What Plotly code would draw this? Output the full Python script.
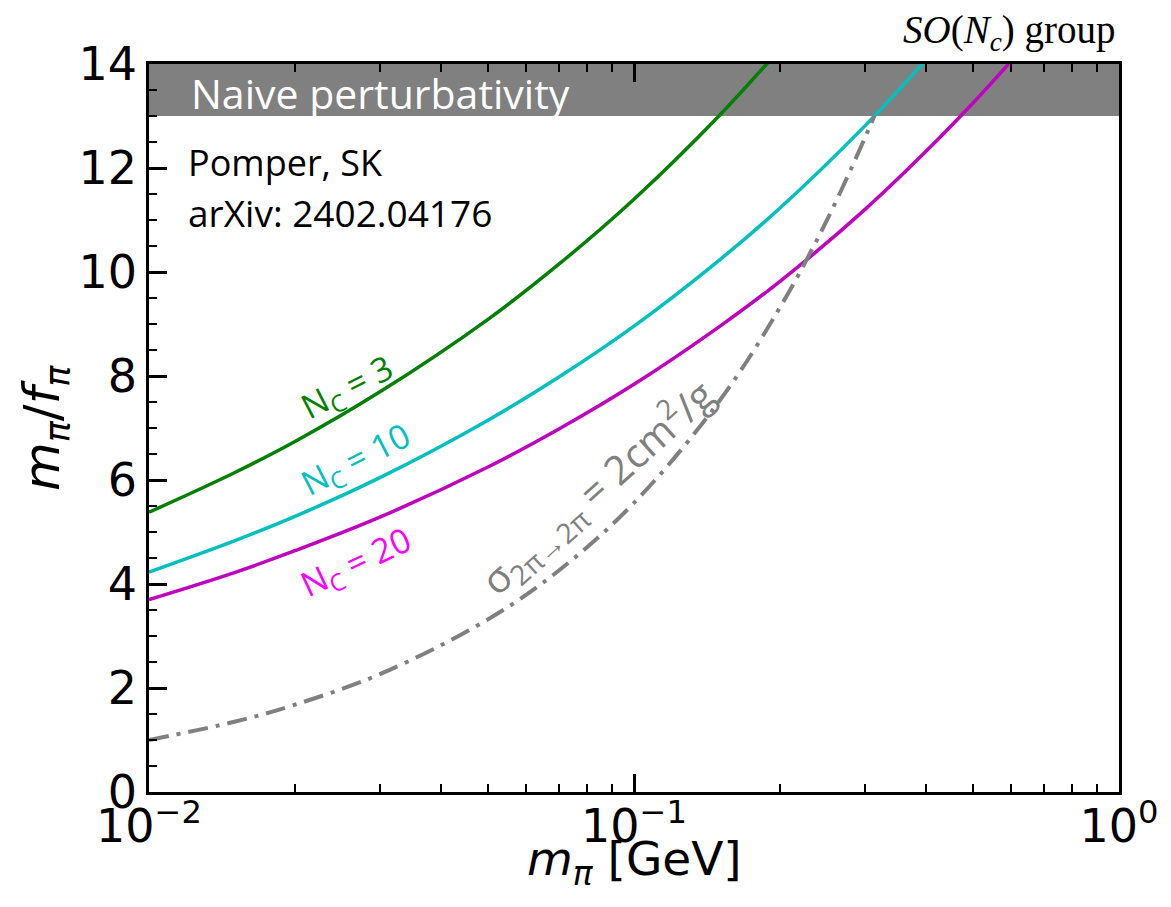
import plotly.graph_objects as go

# ---- data ----
x_nc3 = [0.01, 0.015, 0.02, 0.03, 0.05, 0.07, 0.1, 0.15, 0.2]
y_nc3 = [5.38, 6.14, 6.74, 7.70, 9.09, 10.15, 11.40, 13.01, 14.29]

x_nc10 = [0.01, 0.015, 0.02, 0.03, 0.05, 0.07, 0.1, 0.15, 0.2, 0.3, 0.4]
y_nc10 = [4.23, 4.83, 5.30, 6.05, 7.15, 7.98, 8.96, 10.23, 11.23, 12.82, 14.08]

x_nc20 = [0.01, 0.015, 0.02, 0.03, 0.05, 0.07, 0.1, 0.15, 0.2, 0.3, 0.4, 0.5, 0.6]
y_nc20 = [3.70, 4.22, 4.64, 5.29, 6.25, 6.98, 7.84, 8.95, 9.82, 11.21, 12.32, 13.25, 14.06]

x_sigma = [0.01, 0.015, 0.02, 0.03, 0.05, 0.07, 0.1, 0.15, 0.2, 0.25, 0.3, 0.313]
y_sigma = [1.00, 1.35, 1.68, 2.27, 3.32, 4.26, 5.56, 7.52, 9.32, 11.0, 12.60, 13.0]

band_low, band_high = 13, 14

x_tickvals = [0.01, 0.1, 1]
x_ticktext = ["10<sup>\u22122</sup>", "10<sup>\u22121</sup>", "10<sup>0</sup>"]
x_minor = [k * d for d in (0.01, 0.1) for k in range(2, 10)]

GREEN = "#008000"
CYAN = "#00BFBF"
MAGENTA = "#BF00BF"
GRAY = "#808080"
SANS = "Open Sans"
TICKFONT = dict(family="DejaVu Sans", size=46, color="black")

fig = go.Figure()
for xs, ys, col in [(x_nc3, y_nc3, GREEN), (x_nc10, y_nc10, CYAN), (x_nc20, y_nc20, MAGENTA)]:
    fig.add_trace(go.Scatter(x=xs, y=ys, mode="lines", line=dict(color=col, width=3.5, shape="spline"),
                             showlegend=False, hoverinfo="skip"))
fig.add_trace(go.Scatter(x=x_sigma, y=y_sigma, mode="lines",
                         line=dict(color=GRAY, width=4, dash="20px,8px,4px,8px", shape="spline"),
                         showlegend=False, hoverinfo="skip"))
# invisible trace so that the top (mirror) axis is drawn with its ticks
fig.add_trace(go.Scatter(x=[x_nc3[0]], y=[y_nc3[0]], xaxis="x2", mode="markers",
                         marker=dict(opacity=0), showlegend=False, hoverinfo="skip"))

fig.add_shape(type="rect", xref="paper", x0=0, x1=1, yref="y", y0=band_low, y1=band_high,
              fillcolor=GRAY, line=dict(width=0), layer="below")

ann = []
ann.append(dict(text="Naive perturbativity", x=-1.918, y=13.45, xref="x", yref="y", xanchor="left",
                yanchor="middle", showarrow=False, font=dict(family=SANS, size=41, color="white")))
ann.append(dict(text="Pomper, SK", x=-1.924, y=12.11, xref="x", yref="y", xanchor="left",
                yanchor="middle", showarrow=False, font=dict(family=SANS, size=36, color="black")))
ann.append(dict(text="arXiv: 2402.04176", x=-1.924, y=11.15, xref="x", yref="y", xanchor="left",
                yanchor="middle", showarrow=False, font=dict(family=SANS, size=37, color="black")))
ann.append(dict(text="N<sub>C</sub> = 3", x=-1.590, y=7.77, xref="x", yref="y", textangle=-27,
                showarrow=False, font=dict(family=SANS, size=34, color=GREEN)))
ann.append(dict(text="N<sub>C</sub> = 10", x=-1.5715, y=6.38, xref="x", yref="y", textangle=-27,
                showarrow=False, font=dict(family=SANS, size=34, color=CYAN)))
ann.append(dict(text="N<sub>C</sub> = 20", x=-1.5715, y=4.40, xref="x", yref="y", textangle=-25,
                showarrow=False, font=dict(family=SANS, size=34, color="#FF00FF")))
ann.append(dict(text="\u03c3<sub>2\u03c0\u21922\u03c0</sub> = 2cm<sup>2</sup>/g", x=-1.0753, y=5.87,
                xref="x", yref="y", textangle=-42, showarrow=False,
                font=dict(family=SANS, size=40, color=GRAY)))
ann.append(dict(text="<i>SO</i>(<i>N<sub>c</sub></i>) group", x=0.887, y=1, xref="paper", yref="paper",
                xanchor="center", yanchor="middle", yshift=32, showarrow=False,
                font=dict(family="Liberation Serif", size=39, color="black")))
ann.append(dict(text="<i>m<sub>\u03c0</sub></i>/<i>f<sub>\u03c0</sub></i>", x=0, y=0.5, xref="paper",
                yref="paper", xanchor="center", yanchor="middle", xshift=-104, textangle=-90,
                showarrow=False, font=dict(family="DejaVu Sans", size=50, color="black")))
ann.append(dict(text="<i>m<sub>\u03c0</sub></i> [GeV]", x=0.5, y=0, xref="paper", yref="paper",
                xanchor="center", yanchor="middle", yshift=-70, showarrow=False,
                font=dict(family="DejaVu Sans", size=47, color="black")))

axis_common = dict(ticks="inside", ticklen=18, tickwidth=2.5, tickcolor="black",
                   showgrid=False, zeroline=False)

fig.update_layout(
    width=1171, height=907,
    margin=dict(l=149, r=47, t=64, b=115),
    plot_bgcolor="white", paper_bgcolor="white",
    annotations=ann,
    xaxis=dict(type="log", range=[-2, 0], tickmode="array", tickvals=x_tickvals, ticktext=x_ticktext,
               showline=True, linewidth=2.5, linecolor="black", mirror=True,
               tickfont=TICKFONT, ticklabelstandoff=-8,
               minor=dict(tickmode="array", tickvals=x_minor, ticks="inside", ticklen=8,
                          tickwidth=2, tickcolor="black", showgrid=False), **axis_common),
    xaxis2=dict(type="log", range=[-2, 0], overlaying="x", side="top", anchor="y",
                tickmode="array", tickvals=x_tickvals, showticklabels=False,
                minor=dict(tickmode="array", tickvals=x_minor, ticks="inside", ticklen=8,
                           tickwidth=2, tickcolor="black", showgrid=False), **axis_common),
    yaxis=dict(range=[0, 14], tickmode="linear", tick0=0, dtick=2,
               showline=True, linewidth=2.5, linecolor="black", mirror=True,
               tickfont=TICKFONT, ticklabelstandoff=0,
               minor=dict(dtick=0.5, ticks="inside", ticklen=8, tickwidth=2,
                          tickcolor="black", showgrid=False), **axis_common),
)

fig.write_html("out.html")
